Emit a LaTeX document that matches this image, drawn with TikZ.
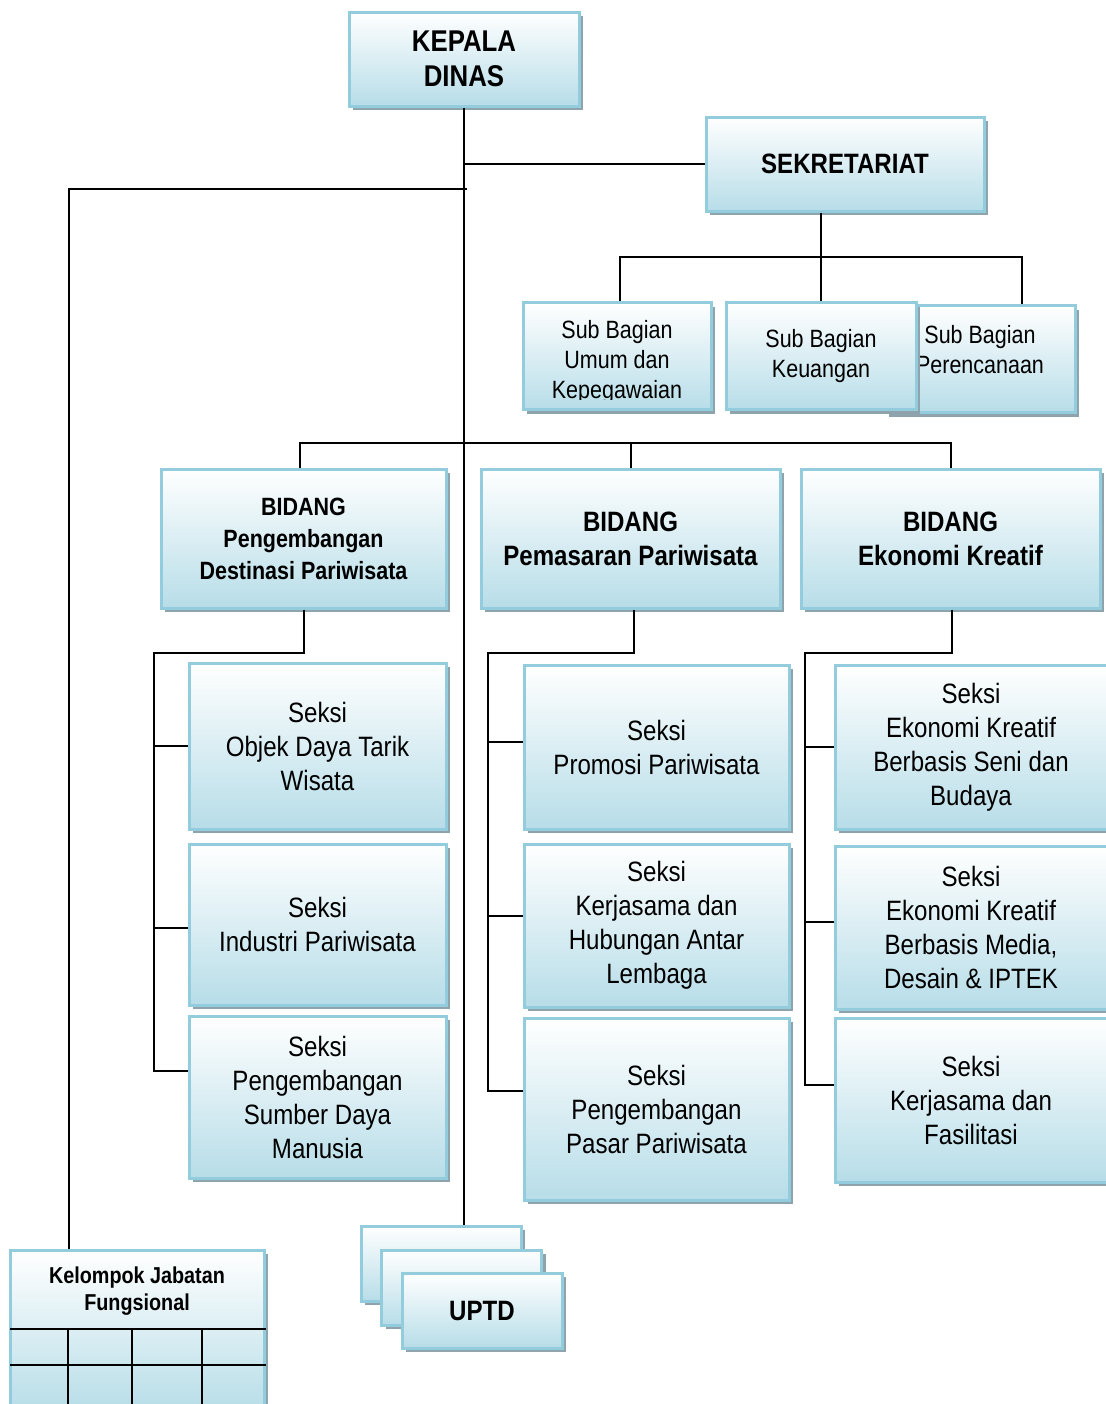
\documentclass[tikz,border=0pt]{standalone}
\usepackage{fontspec}
\setmainfont{Liberation Sans}[FakeStretch=0.86]
\usepackage{tikz}
\usetikzlibrary{shadows}
\definecolor{boxblue}{HTML}{B7DDE8}
\definecolor{boxframe}{HTML}{93CDDD}
\definecolor{boxshadow}{HTML}{8EA3AB}

\begin{document}
\begin{tikzpicture}[
    x=0.5pt, y=-0.5pt,
    orgbox/.style={
        rectangle,
        draw=boxframe,
        line width=1.5pt,
        top color=white,
        bottom color=boxblue,
        drop shadow={shadow xshift=2pt, shadow yshift=-2pt, fill=boxshadow, opacity=1},
        inner sep=2pt,
        align=center
    },
    headbox/.style={orgbox, minimum height=47pt, font=\bfseries\fontsize{14}{17}\selectfont},
    subbox/.style={orgbox, minimum width=95pt, minimum height=53.5pt, font=\fontsize{12.5}{15}\selectfont},
    bidbox/.style={orgbox, minimum height=69.5pt, font=\bfseries\fontsize{14}{17}\selectfont},
    seksibox/.style={orgbox, font=\fontsize{14}{17}\selectfont},
    uptdbox/.style={orgbox, minimum width=80pt, minimum height=37.5pt, font=\bfseries\fontsize{14}{17}\selectfont},
    link/.style={line width=1pt}
]
    \fill[white] (0,0) rectangle (1105,1404);
    \useasboundingbox (0,0) rectangle (1105,1404);

    % === TOP ===
    \node[headbox, minimum width=115pt, font=\bfseries\fontsize{15}{17.5}\selectfont] (kepala) at (464,59) {KEPALA\\DINAS};
    \node[headbox, minimum width=139pt] (sekretariat) at (845,164) {SEKRETARIAT};

    % === SUB BAGIAN ===
    \node[subbox] (perencanaan) at (980,359) {};
    \node[font=\fontsize{12.5}{15}\selectfont, align=center] (perencanaantext) at (980,350) {Sub Bagian\\Perencanaan};
    \node[subbox] (keuangan) at (821,356) {Sub Bagian\\Keuangan};
    \node[subbox, minimum width=94pt] (umum) at (617,356) {};
    \begin{scope}
        \clip (umum.north west) rectangle ([yshift=6pt]umum.south east);
        \node[font=\fontsize{12.5}{15}\selectfont, align=center] (umumtext) at (617,362) {Sub Bagian\\Umum dan\\Kepegawaian};
    \end{scope}

    % === BIDANG ===
    \node[bidbox, minimum width=142.5pt, font=\bfseries\fontsize{12.5}{16}\selectfont] (bidang1) at (303.5,538.5) {BIDANG\\Pengembangan\\Destinasi Pariwisata};
    \node[bidbox, minimum width=149.5pt] (bidang2) at (630.5,538.5) {BIDANG\\Pemasaran Pariwisata};
    \node[bidbox, minimum width=149.5pt] (bidang3) at (950.5,538.5) {BIDANG\\Ekonomi Kreatif};

    % === SEKSI ===
    \node[seksibox, minimum width=128.5pt, minimum height=83pt] (seksi11) at (317.5,746) {Seksi\\Objek Daya Tarik\\Wisata};
    \node[seksibox, minimum width=128.5pt, minimum height=80.5pt] (seksi12) at (317.5,924.5) {Seksi\\Industri Pariwisata};
    \node[seksibox, minimum width=128.5pt, minimum height=81pt] (seksi13) at (317.5,1097) {Seksi\\Pengembangan\\Sumber Daya\\Manusia};

    \node[seksibox, minimum width=132.5pt, minimum height=82pt] (seksi21) at (656.5,747) {Seksi\\Promosi Pariwisata};
    \node[seksibox, minimum width=132.5pt, minimum height=81.5pt] (seksi22) at (656.5,925.5) {Seksi\\Kerjasama dan\\Hubungan Antar\\Lembaga};
    \node[seksibox, minimum width=132.5pt, minimum height=91pt] (seksi23) at (656.5,1109) {Seksi\\Pengembangan\\Pasar Pariwisata};

    \node[seksibox, minimum width=136pt, minimum height=82pt] (seksi31) at (971,747) {Seksi\\Ekonomi Kreatif\\Berbasis Seni dan\\Budaya};
    \node[seksibox, minimum width=136pt, minimum height=81.5pt] (seksi32) at (971,927.5) {Seksi\\Ekonomi Kreatif\\Berbasis Media,\\Desain \& IPTEK};
    \node[seksibox, minimum width=136pt, minimum height=82pt] (seksi33) at (971,1100) {Seksi\\Kerjasama dan\\Fasilitasi};

    % === UPTD ===
    \node[uptdbox] (uptd1) at (441,1263.5) {};
    \node[uptdbox] (uptd2) at (461.5,1287.5) {};
    \node[uptdbox] (uptd3) at (482,1310.5) {UPTD};

    % === KELOMPOK JABATAN FUNGSIONAL ===
    \node[orgbox, minimum width=127pt, minimum height=81pt] (fungsional) at (137,1331) {};
    \node[font=\bfseries\fontsize{11.5}{13.5}\selectfont, align=center] (fungsionaltext) at (137,1291) {Kelompok Jabatan\\Fungsional};
    \foreach \y in {1329,1365}
        \draw[link] (10,\y) -- (266,\y);
    \foreach \x in {68,132,202}
        \draw[link] (\x,1329) -- (\x,1412);

    % === CONNECTORS ===
    \draw[link] (kepala.south) -- (kepala.south |- uptd1.north);
    \draw[link] (kepala.south |- sekretariat.west) -- (sekretariat.west);
    \coordinate (fjcorner) at (69,189);
    \draw[link] ([xshift=1.5pt]kepala.south |- fjcorner) -- (fjcorner) -- (fjcorner |- fungsional.north);

    \coordinate (subbar) at (0,257);
    \draw[link] (keuangan.north |- sekretariat.south) -- (keuangan.north);
    \draw[link] ([xshift=1.5pt]umum.north) -- ([xshift=1.5pt]umum.north |- subbar) -- ([xshift=21pt]perencanaan.north |- subbar) -- ([xshift=21pt]perencanaan.north);

    \coordinate (bidbar) at (0,443);
    \draw[link] ([xshift=-2pt]bidang1.north) -- ([xshift=-2pt]bidang1.north |- bidbar) -- (bidang3.north |- bidbar) -- (bidang3.north);
    \draw[link] (bidang2.north |- bidbar) -- (bidang2.north);

    \coordinate (col1) at (154,653);
    \coordinate (col2) at (488,653);
    \coordinate (col3) at (805,653);
    \coordinate (b13) at ([yshift=13pt]seksi13.west);
    \coordinate (b23) at ([yshift=9pt]seksi23.west);
    \coordinate (b33) at ([yshift=7.5pt]seksi33.west);

    \draw[link] (bidang1.south) |- (col1) -- (col1 |- b13) -- (b13);
    \draw[link] (col1 |- seksi11.west) -- (seksi11.west);
    \draw[link] ([yshift=-1.75pt]col1 |- seksi12.west) -- ([yshift=-1.75pt]seksi12.west);

    \draw[link] ([xshift=1.5pt]bidang2.south) |- (col2) -- (col2 |- b23) -- (b23);
    \draw[link] ([yshift=2.5pt]col2 |- seksi21.west) -- ([yshift=2.5pt]seksi21.west);
    \draw[link] ([yshift=4.75pt]col2 |- seksi22.west) -- ([yshift=4.75pt]seksi22.west);

    \draw[link] ([xshift=0.75pt]bidang3.south) |- (col3) -- (col3 |- b33) -- (b33);
    \draw[link] (col3 |- seksi31.west) -- (seksi31.west);
    \draw[link] ([yshift=2.75pt]col3 |- seksi32.west) -- ([yshift=2.75pt]seksi32.west);
\end{tikzpicture}
\end{document}
